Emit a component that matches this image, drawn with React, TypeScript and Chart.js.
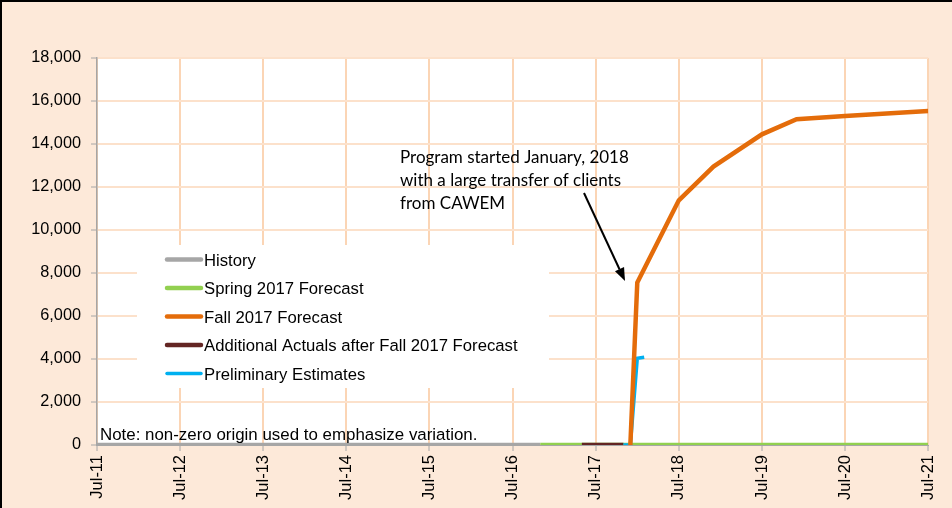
import React, { useEffect, useRef } from "react";
import { Chart, registerables } from "chart.js";

Chart.register(...registerables);

// ---- Data (dates as YYYY-MM, values = clients) ----
const historyDates = ["2011-07", "2016-11"];
const historyValues = [0, 0];

const spring2017Dates = ["2016-11", "2021-07"];
const spring2017Values = [0, 0];

const fall2017Dates = ["2017-12", "2018-01", "2018-07", "2018-12", "2019-07", "2019-12", "2020-07", "2021-07"];
const fall2017Values = [0, 7560, 11380, 12950, 14450, 15150, 15300, 15540];

const additionalActualsDates = ["2017-05", "2017-11"];
const additionalActualsValues = [0, 0];

const preliminaryDates = ["2017-11", "2017-12", "2018-01", "2018-02"];
const preliminaryValues = [0, 0, 4030, 4080];

const xTickLabels = ["Jul-11", "Jul-12", "Jul-13", "Jul-14", "Jul-15", "Jul-16", "Jul-17", "Jul-18", "Jul-19", "Jul-20", "Jul-21"];
const yMin = 0;
const yMax = 18000;
const yStep = 2000;

const seriesNames = [
  "History",
  "Spring 2017 Forecast",
  "Fall 2017 Forecast",
  "Additional Actuals after Fall 2017 Forecast",
  "Preliminary Estimates",
];
const seriesColors = ["#A6A6A6", "#92D050", "#E46C0A", "#632523", "#00B0F0"];

const noteText = "Note: non-zero origin used to emphasize variation.";
const annotationLines = [
  "Program started January, 2018",
  "with a large transfer of clients",
  "from CAWEM",
];

// month index counted from Jul-2011
const monthIndex = (d: string) => {
  const [y, m] = d.split("-").map(Number);
  return (y - 2011) * 12 + (m - 7);
};
const toPoints = (dates: string[], values: number[]) =>
  dates.map((d, i) => ({ x: monthIndex(d), y: values[i] }));

const FONT = "'Liberation Sans', Arial, sans-serif";

const decorPlugin = {
  id: "decor",
  beforeDraw(chart: any) {
    const { ctx, chartArea: a, width, height } = chart;
    ctx.save();
    ctx.fillStyle = "#FDE9D9";
    ctx.fillRect(0, 0, width, height);
    ctx.fillStyle = "#FFFFFF";
    ctx.fillRect(a.left, a.top, a.right - a.left, a.bottom - a.top);
    ctx.fillStyle = "#000000";
    ctx.fillRect(0, 0, width, 2);
    ctx.fillRect(0, 0, 2, height);
    ctx.restore();
  },
  beforeDatasetsDraw(chart: any) {
    const { ctx, chartArea: a } = chart;
    ctx.save();
    ctx.fillStyle = "#FFFFFF";
    ctx.fillRect(a.left + 40, 245, 412, 143);
    ctx.restore();
  },
  afterDraw(chart: any) {
    const { ctx, chartArea: a } = chart;
    ctx.save();
    // legend
    const rowTop = 259.5;
    const rowGap = 28.5;
    seriesNames.forEach((name, i) => {
      const y = rowTop + i * rowGap;
      ctx.strokeStyle = seriesColors[i];
      ctx.lineWidth = i === 4 ? 3.5 : 4.5;
      ctx.lineCap = "round";
      ctx.beginPath();
      ctx.moveTo(a.left + 70, y);
      ctx.lineTo(a.left + 104, y);
      ctx.stroke();
      ctx.fillStyle = "#000000";
      ctx.font = `16.7px ${FONT}`;
      ctx.textBaseline = "alphabetic";
      ctx.textAlign = "left";
      ctx.fillText(name, a.left + 107, y + 6);
    });
    // note
    ctx.font = `16.9px ${FONT}`;
    ctx.fillStyle = "#000000";
    ctx.fillText(noteText, a.left + 3, 440);
    // annotation
    ctx.font = "17px Lato, 'Open Sans', sans-serif";
    annotationLines.forEach((t, i) => {
      ctx.fillText(t, 400, 163 + i * 22.8);
    });
    // arrow
    const x1 = 584, y1 = 193, x2 = 625, y2 = 281;
    const ang = Math.atan2(y2 - y1, x2 - x1);
    const headLen = 13, headW = 5;
    ctx.strokeStyle = "#000000";
    ctx.lineWidth = 2;
    ctx.lineCap = "butt";
    ctx.beginPath();
    ctx.moveTo(x1, y1);
    ctx.lineTo(x2 - headLen * Math.cos(ang), y2 - headLen * Math.sin(ang));
    ctx.stroke();
    ctx.fillStyle = "#000000";
    ctx.beginPath();
    ctx.moveTo(x2, y2);
    const bx = x2 - headLen * Math.cos(ang);
    const by = y2 - headLen * Math.sin(ang);
    ctx.lineTo(bx + headW * Math.sin(ang), by - headW * Math.cos(ang));
    ctx.lineTo(bx - headW * Math.sin(ang), by + headW * Math.cos(ang));
    ctx.closePath();
    ctx.fill();
    ctx.restore();
  },
};

export default function App() {
  const canvasRef = useRef<HTMLCanvasElement | null>(null);

  useEffect(() => {
    document.body.style.margin = "0";
    const canvas = canvasRef.current;
    if (!canvas) return;
    const mk = (i: number, data: { x: number; y: number }[], order: number, width: number) => ({
      label: seriesNames[i],
      data,
      borderColor: seriesColors[i],
      backgroundColor: seriesColors[i],
      borderWidth: width,
      pointRadius: 0,
      pointHoverRadius: 0,
      tension: 0,
      fill: false,
      order,
    });
    const chart = new Chart(canvas, {
      type: "line",
      data: {
        datasets: [
          mk(0, toPoints(historyDates, historyValues), 5, 4.5),
          mk(1, toPoints(spring2017Dates, spring2017Values), 4, 4.5),
          mk(2, toPoints(fall2017Dates, fall2017Values), 1, 4.5),
          mk(3, toPoints(additionalActualsDates, additionalActualsValues), 3, 4.5),
          mk(4, toPoints(preliminaryDates, preliminaryValues), 2, 3.5),
        ],
      },
      options: {
        animation: false,
        responsive: false,
        devicePixelRatio: 1,
        layout: { padding: { top: 58, right: 20, left: 0, bottom: 0 } },
        plugins: {
          legend: { display: false },
          tooltip: { enabled: false },
        },
        scales: {
          x: {
            type: "linear",
            min: 0,
            max: (xTickLabels.length - 1) * 12,
            afterBuildTicks: (scale: any) => {
              scale.ticks = xTickLabels.map((_, i) => ({ value: i * 12 }));
            },
            afterFit: (scale: any) => {
              scale.height = 63;
            },
            grid: {
              color: "#FBD5B5",
              lineWidth: 2,
              tickColor: "#A6A6A6",
              tickLength: 6,
              tickWidth: 1,
            },
            border: { color: "#A6A6A6", width: 1 },
            ticks: {
              autoSkip: false,
              minRotation: 90,
              maxRotation: 90,
              padding: 4,
              color: "#000000",
              font: { family: FONT, size: 16.5 },
              callback: (v: any) => xTickLabels[Math.round(Number(v) / 12)] ?? "",
            },
          },
          y: {
            min: yMin,
            max: yMax,
            afterFit: (scale: any) => {
              scale.width = 97;
            },
            grid: {
              color: "#FCE1CB",
              lineWidth: 2,
              tickColor: "#A6A6A6",
              tickLength: 6,
              tickWidth: 1,
            },
            border: { color: "#A6A6A6", width: 1.5 },
            ticks: {
              stepSize: yStep,
              padding: 10,
              color: "#000000",
              font: { family: FONT, size: 16.3 },
              callback: (v: any) => Number(v).toLocaleString("en-US"),
            },
          },
        },
      },
      plugins: [decorPlugin],
    } as any);
    return () => chart.destroy();
  }, []);

  return (
    <div style={{ width: 952, height: 508 }}>
      <canvas ref={canvasRef} width={952} height={508} style={{ display: "block" }} />
    </div>
  );
}
